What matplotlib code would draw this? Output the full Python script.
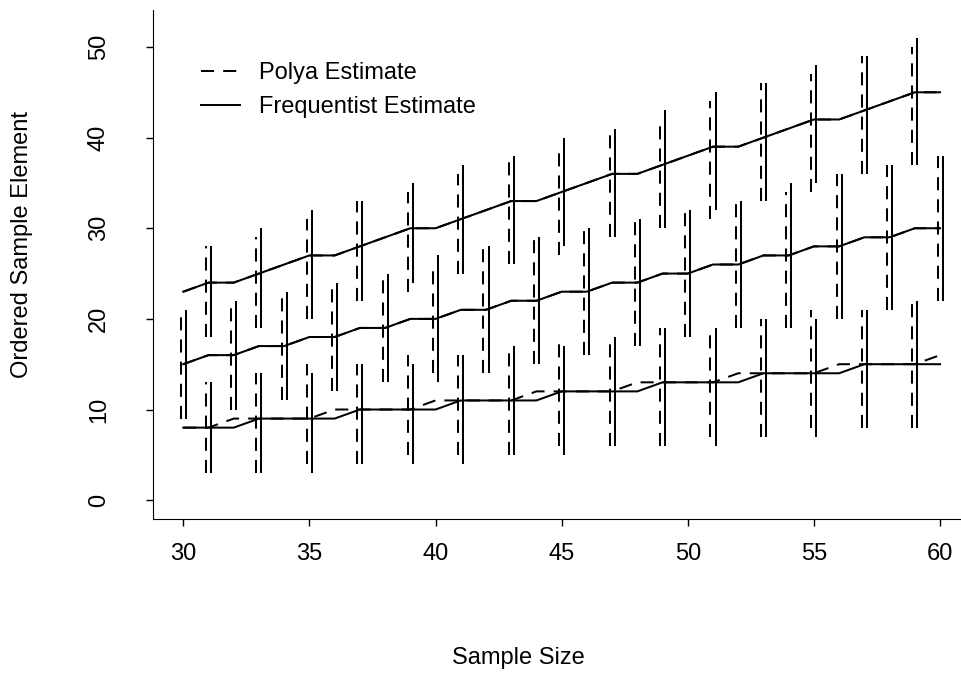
# 顺序统计量估计图 (Polya vs Frequentist)
import matplotlib
matplotlib.use('Agg')
import matplotlib.pyplot as plt
import numpy as np

plt.rcParams['font.family'] = ['Liberation Sans', 'DejaVu Sans']
plt.rcParams['font.size'] = 17

# 样本量
n = list(range(30, 61))
n_odd = list(range(31, 60, 2))
n_even = list(range(30, 61, 2))

# 估计线
polya_low = [8, 8, 9, 9, 9, 9, 10, 10, 10, 10, 11, 11, 11, 11, 12, 12, 12, 12, 13, 13, 13, 13, 14, 14, 14, 14, 15, 15, 15, 15, 16]
freq_low = [8, 8, 8, 9, 9, 9, 9, 10, 10, 10, 10, 11, 11, 11, 11, 12, 12, 12, 12, 13, 13, 13, 13, 14, 14, 14, 14, 15, 15, 15, 15]
polya_mid = [15, 16, 16, 17, 17, 18, 18, 19, 19, 20, 20, 21, 21, 22, 22, 23, 23, 24, 24, 25, 25, 26, 26, 27, 27, 28, 28, 29, 29, 30, 30]
freq_mid = [15, 16, 16, 17, 17, 18, 18, 19, 19, 20, 20, 21, 21, 22, 22, 23, 23, 24, 24, 25, 25, 26, 26, 27, 27, 28, 28, 29, 29, 30, 30]
polya_high = [23, 24, 24, 25, 26, 27, 27, 28, 29, 30, 30, 31, 32, 33, 33, 34, 35, 36, 36, 37, 38, 39, 39, 40, 41, 42, 42, 43, 44, 45, 45]
freq_high = [23, 24, 24, 25, 26, 27, 27, 28, 29, 30, 30, 31, 32, 33, 33, 34, 35, 36, 36, 37, 38, 39, 39, 40, 41, 42, 42, 43, 44, 45, 45]

# 区间 (低: 奇数n, 中: 偶数n, 高: 奇数n)
polya_low_lo = [3, 3, 4, 4, 5, 5, 5, 6, 6, 6, 7, 7, 8, 8, 8]
polya_low_hi = [13, 14, 15, 15, 16, 16, 17, 18, 18, 19, 19, 20, 21, 21, 22]
freq_low_lo = [3, 3, 3, 4, 4, 4, 5, 5, 6, 6, 6, 7, 7, 8, 8]
freq_low_hi = [13, 14, 14, 15, 15, 16, 17, 17, 18, 19, 19, 20, 20, 21, 22]

polya_mid_lo = [9, 10, 11, 12, 13, 14, 14, 15, 16, 17, 18, 19, 19, 20, 21, 22]
polya_mid_hi = [21, 22, 23, 24, 25, 26, 28, 29, 30, 31, 32, 33, 34, 36, 37, 38]
freq_mid_lo = [9, 10, 11, 12, 13, 13, 14, 15, 16, 17, 18, 19, 19, 20, 21, 22]
freq_mid_hi = [21, 22, 23, 24, 25, 27, 28, 29, 30, 31, 32, 33, 35, 36, 37, 38]

polya_high_lo = [18, 19, 20, 22, 23, 25, 26, 27, 29, 30, 31, 33, 34, 36, 37]
polya_high_hi = [28, 29, 31, 33, 34, 36, 38, 39, 41, 42, 44, 46, 47, 49, 50]
freq_high_lo = [18, 19, 20, 22, 24, 25, 26, 28, 29, 30, 32, 33, 35, 36, 37]
freq_high_hi = [28, 30, 32, 33, 35, 37, 38, 40, 41, 43, 45, 46, 48, 49, 51]

dash = (0, (6.5, 4.5))
lw = 1.45
off = 0.1

fig = plt.figure(figsize=(9.62, 6.75), dpi=100)
ax = fig.add_axes([153 / 962, 1 - 519 / 675, 1 - 153 / 962, 509 / 675])

ax.plot(n, polya_low, color='black', lw=lw, linestyle=dash, label='Polya Estimate')
ax.plot(n, freq_low, color='black', lw=lw, label='Frequentist Estimate')
ax.plot(n, polya_mid, color='black', lw=lw, linestyle=dash)
ax.plot(n, freq_mid, color='black', lw=lw)
ax.plot(n, polya_high, color='black', lw=lw, linestyle=dash)
ax.plot(n, freq_high, color='black', lw=lw)

xo = np.array(n_odd)
xe = np.array(n_even)
for x, lo, hi in [(xo, polya_low_lo, polya_low_hi), (xe, polya_mid_lo, polya_mid_hi), (xo, polya_high_lo, polya_high_hi)]:
    ax.vlines(x - off, lo, hi, colors='black', lw=lw, linestyles=[dash])
for x, lo, hi in [(xo, freq_low_lo, freq_low_hi), (xe, freq_mid_lo, freq_mid_hi), (xo, freq_high_lo, freq_high_hi)]:
    ax.vlines(x + off, lo, hi, colors='black', lw=lw)

ax.set_xlim(28.8, 60.87)
ax.set_ylim(-2.08, 54.08)
ax.set_xticks([30, 35, 40, 45, 50, 55, 60])
ax.set_yticks([0, 10, 20, 30, 40, 50])
ax.tick_params(direction='out', length=5, width=1, pad=12)
ax.tick_params(axis='y', labelrotation=90, pad=26)
for lab in ax.get_yticklabels():
    lab.set_va('center')
ax.spines['top'].set_visible(False)
ax.spines['right'].set_visible(False)

fig.text(518 / 962, 1 - 658 / 675, 'Sample Size', ha='center', va='center')
fig.text(22 / 962, 1 - 244 / 675, 'Ordered Sample Element', ha='center', va='center', rotation=90)

ax.legend(frameon=False, loc='upper left', bbox_to_anchor=(201 / 962, 1 - 62 / 675),
          bbox_transform=fig.transFigure, borderpad=0, borderaxespad=0,
          handlelength=1.65, handletextpad=0.8, labelspacing=0.5)

fig.savefig('out.png', dpi=100)
